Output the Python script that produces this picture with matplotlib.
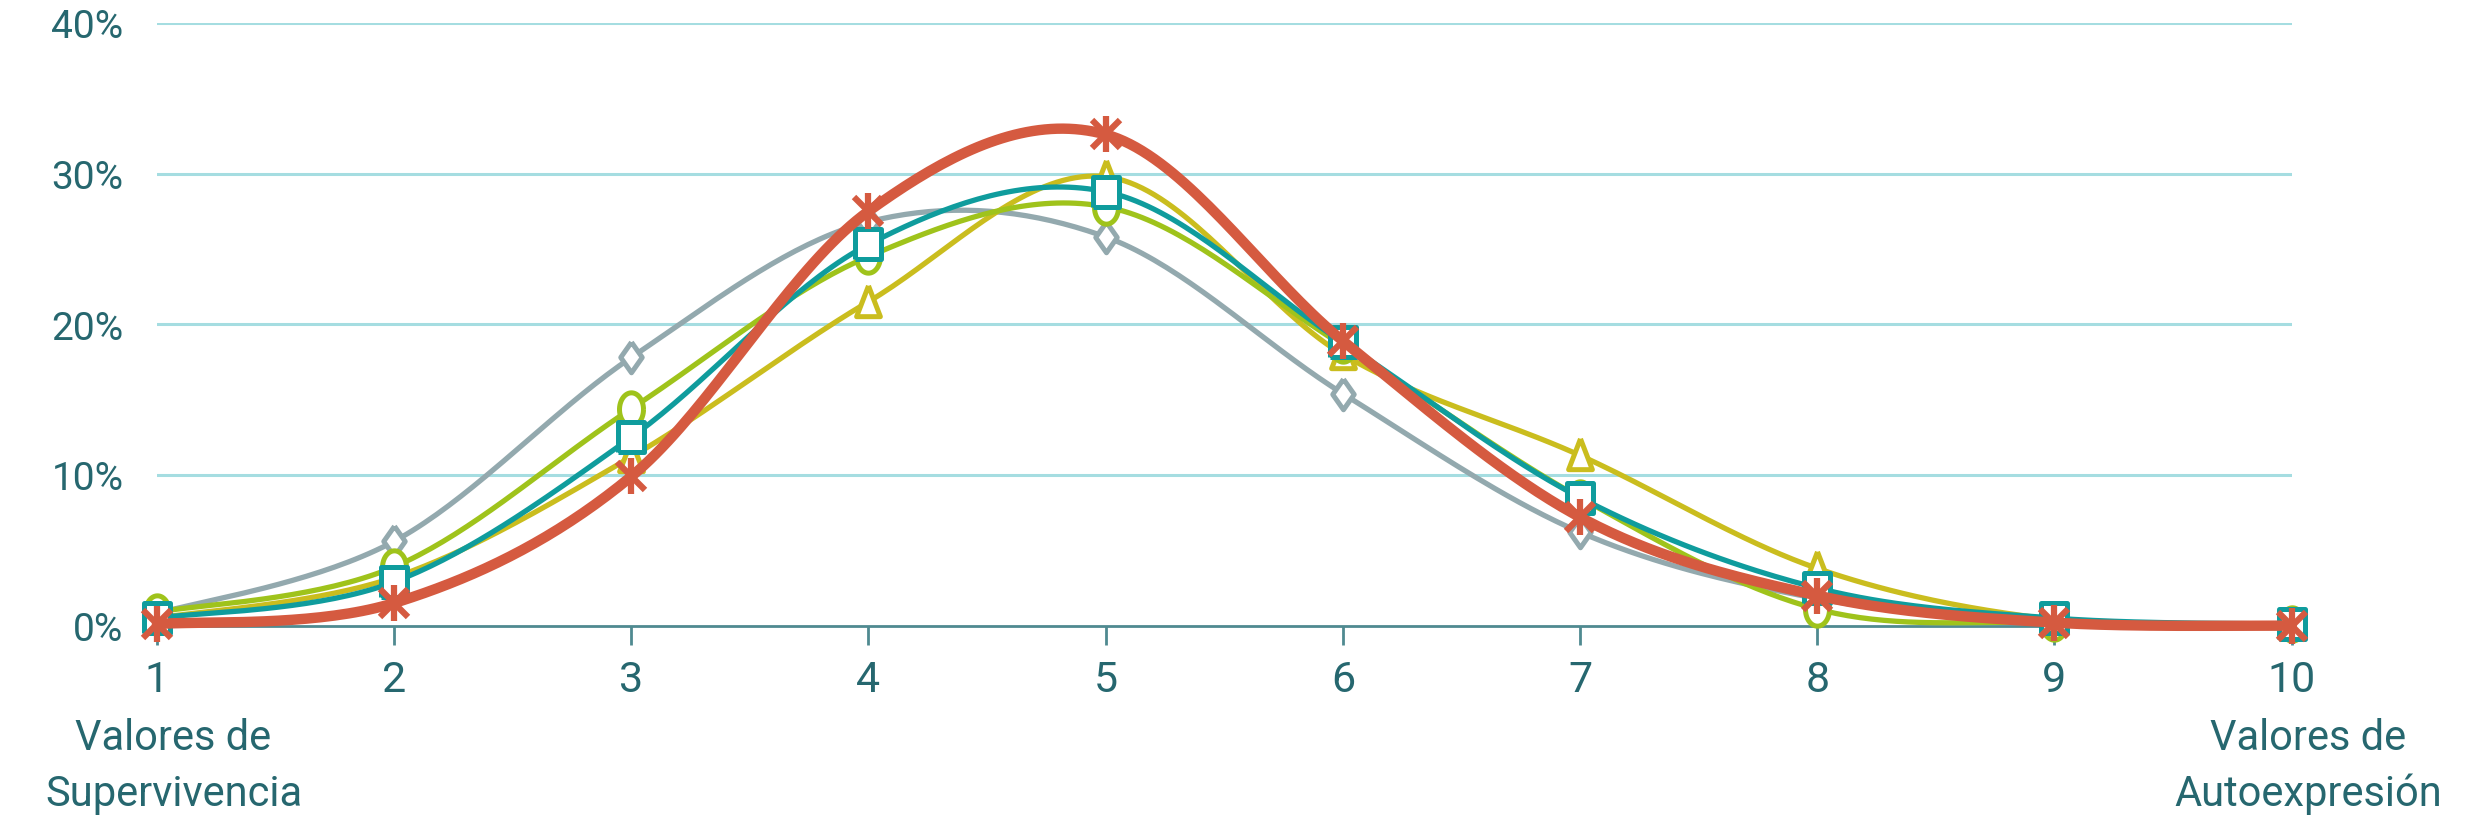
import numpy as np
import matplotlib
matplotlib.use("Agg")
import matplotlib.pyplot as plt
from matplotlib.path import Path

plt.rcParams['font.family'] = ['Liberation Sans Narrow', 'Roboto', 'DejaVu Sans']

x_vals = [1, 2, 3, 4, 5, 6, 7, 8, 9, 10]
gray_vals   = [0.8, 5.6, 17.8, 26.8, 25.8, 15.4, 6.2, 1.8, 0.3, 0.1]
green_vals  = [0.9, 3.9, 14.4, 24.5, 27.8, 18.6, 8.5, 1.1, 0.2, 0.1]
yellow_vals = [0.5, 3.2, 11.2, 21.5, 29.8, 18.0, 11.3, 3.8, 0.4, 0.1]
teal_vals   = [0.5, 2.9, 12.5, 25.3, 28.8, 18.8, 8.5, 2.5, 0.5, 0.1]
red_vals    = [0.1, 1.5, 9.9, 27.5, 32.6, 18.9, 7.2, 2.0, 0.2, 0.0]
y_ticks = [0, 10, 20, 30, 40]
y_tick_labels = ['0%', '10%', '20%', '30%', '40%']
left_label = 'Valores de\nSupervivencia'
right_label = 'Valores de\nAutoexpresión'

TEXT = '#26676f'
GRID = '#a5dde1'


def smooth(xs, ys, n=40):
    """Excel-like smoothed line (Catmull-Rom Bezier) through the points."""
    xs = np.asarray(xs, float)
    ys = np.asarray(ys, float)
    P = np.column_stack([xs, ys])
    out = []
    for i in range(len(P) - 1):
        p0 = P[i - 1] if i > 0 else P[i]
        p1 = P[i]
        p2 = P[i + 1]
        p3 = P[i + 2] if i + 2 < len(P) else P[i + 1]
        c1 = p1 + (p2 - p0) / 6.0
        c2 = p2 - (p3 - p1) / 6.0
        t = np.linspace(0, 1, n)[:, None]
        b = ((1 - t) ** 3) * p1 + 3 * ((1 - t) ** 2) * t * c1 + 3 * (1 - t) * t ** 2 * c2 + t ** 3 * p2
        out.append(b if i == 0 else b[1:])
    b = np.vstack(out)
    return b[:, 0], b[:, 1]


def stretched(path_verts, sx=0.72, codes=None):
    v = np.asarray(path_verts, float).copy()
    v[:, 0] *= sx
    return Path(v, codes)

theta = np.linspace(0, 2 * np.pi, 60)
ellipse = stretched(np.column_stack([np.cos(theta), np.sin(theta)]), 0.72)
tri = stretched([[0, 1], [-0.75, -0.85], [0.75, -0.85], [0, 1]], 0.95)
sq = stretched([[-1, -1], [1, -1], [1, 1], [-1, 1], [-1, -1]], 0.82)
dia = stretched([[0, 1.35], [0.95, 0], [0, -1.35], [-0.95, 0], [0, 1.35]], 1.0)

fig = plt.figure(figsize=(24.83, 8.29), dpi=100)
ax = fig.add_axes([0.0632, 0.2441, 0.8597, 0.727])

series = [
    (gray_vals, '#93a9ae', dia, 22, 3.8),
    (yellow_vals, '#cabd1e', tri, 24, 3.8),
    (green_vals, '#9fc31b', ellipse, 24, 3.8),
    (teal_vals, '#0f9c9d', sq, 22, 3.8),
]
for vals, col, mk, ms, lw in series:
    sx, sy = smooth(x_vals, vals)
    ax.plot(sx, sy, color=col, lw=lw, solid_capstyle='round', clip_on=False, zorder=3)
    ax.plot(x_vals, vals, ls='none', marker=mk, ms=ms, mfc='white', mec=col, mew=3.6,
            clip_on=False, zorder=4)

sx, sy = smooth(x_vals, red_vals)
ax.plot(sx, sy, color='#d55a40', lw=7.5, solid_capstyle='round', clip_on=False, zorder=5)
ax.plot(x_vals, red_vals, ls='none', marker='x', ms=20, mec='#d55a40', mew=4.5, clip_on=False, zorder=6)
ax.plot(x_vals, red_vals, ls='none', marker='|', ms=26, mec='#d55a40', mew=4.5, clip_on=False, zorder=6)

ax.set_xlim(1, 10)
ax.set_ylim(0, 40)
ax.set_yticks(y_ticks)
ax.set_yticklabels(y_tick_labels)
ax.set_xticks(x_vals)
ax.set_xticklabels([str(v) for v in x_vals])

for t in y_ticks[1:]:
    ax.axhline(t, color=GRID, lw=2.2, zorder=1)

for s in ['top', 'right', 'left']:
    ax.spines[s].set_visible(False)
ax.spines['bottom'].set_color('#4f8a90')
ax.spines['bottom'].set_linewidth(2)
ax.spines['bottom'].set_zorder(2)

ax.tick_params(axis='y', length=0, pad=24, labelsize=28, labelcolor=TEXT)
ax.tick_params(axis='x', length=14, width=2, color='#4f8a90', pad=10, labelsize=31, labelcolor=TEXT)

ax.text(1.07, -0.152, left_label, transform=ax.get_xaxis_transform(), ha='center', va='top',
        fontsize=30, color=TEXT, linespacing=1.45)
ax.text(10.07, -0.152, right_label, transform=ax.get_xaxis_transform(), ha='center', va='top',
        fontsize=30, color=TEXT, linespacing=1.45)

fig.savefig('out.png', dpi=100, facecolor='white')
